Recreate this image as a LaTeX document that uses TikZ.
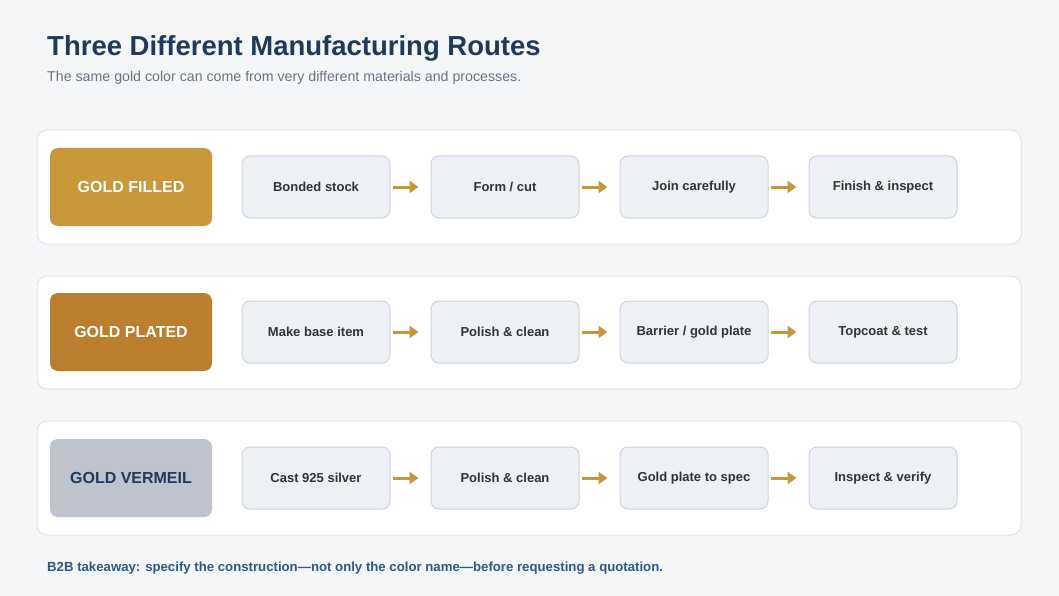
\documentclass[tikz,border=0pt]{standalone}
\usepackage{fontspec}
\setmainfont{Liberation Sans}
\usetikzlibrary{positioning,arrows.meta}
\definecolor{pagebg}{HTML}{F5F6F8}
\definecolor{navy}{HTML}{1F3A5A}
\definecolor{subgray}{HTML}{6B7280}
\definecolor{goldA}{HTML}{C8983A}
\definecolor{goldB}{HTML}{BB7E2E}
\definecolor{silverC}{HTML}{BEC3CE}
\definecolor{stepfill}{HTML}{EDF0F5}
\definecolor{stepline}{HTML}{CDD4DE}
\definecolor{panelline}{HTML}{DFE3E9}
\definecolor{arrowgold}{HTML}{C8963A}
\definecolor{notecol}{HTML}{2B5A8A}
\tikzset{
  panel/.style={draw=panelline,fill=white,rounded corners=10pt,line width=1pt},
  route/.style={rounded corners=8pt,minimum width=162pt,minimum height=78pt,font=\bfseries\fontsize{16}{18}\selectfont,inner sep=0pt},
  stepbox/.style={draw=stepline,fill=stepfill,rounded corners=8pt,line width=1pt,minimum width=148pt,minimum height=62pt,font=\bfseries\fontsize{13}{15}\selectfont,text=black!80,inner sep=0pt},
  flow/.style={draw=arrowgold,line width=3pt,-{Triangle[length=9pt,width=12pt]},shorten <=2pt,shorten >=12pt},
}
\begin{document}
\begin{tikzpicture}[x=1pt,y=-1pt]
\fill[pagebg] (0,0) rectangle (1059,596);
\useasboundingbox (0,0) rectangle (1059,596);
\node[anchor=base west,text=navy,font=\bfseries\fontsize{27.5}{30}\selectfont,inner sep=0pt] (title) at (47,56) {Three Different Manufacturing Routes};
\node[anchor=base west,text=subgray,font=\fontsize{14.2}{16}\selectfont,inner sep=0pt] (sub) at (47,82) {The same gold color can come from very different materials and processes.};

% Rows
\draw[panel] (37,130) rectangle (1021,244);
\draw[panel] (37,276) rectangle (1021,389);
\draw[panel] (37,421) rectangle (1021,535);

\node[route,fill=goldA,text=white] (rA) at (131,187) {GOLD FILLED};
\node[route,fill=goldB,text=white] (rB) at (131,332) {GOLD PLATED};
\node[route,fill=silverC,text=navy] (rC) at (131,478) {GOLD VERMEIL};

\node[stepbox] (a1) at (316,187) {Bonded stock};
\node[stepbox,right=40pt of a1] (a2) {Form / cut};
\node[stepbox,right=40pt of a2] (a3) {Join carefully};
\node[stepbox,right=40pt of a3] (a4) {Finish \& inspect};

\node[stepbox] (b1) at (316,332) {Make base item};
\node[stepbox,right=40pt of b1] (b2) {Polish \& clean};
\node[stepbox,right=40pt of b2] (b3) {Barrier / gold plate};
\node[stepbox,right=40pt of b3] (b4) {Topcoat \& test};

\node[stepbox] (c1) at (316,478) {Cast 925 silver};
\node[stepbox,right=40pt of c1] (c2) {Polish \& clean};
\node[stepbox,right=40pt of c2] (c3) {Gold plate to spec};
\node[stepbox,right=40pt of c3] (c4) {Inspect \& verify};

\foreach \r in {a,b,c}{
  \draw[flow] (\r1) -- (\r2);
  \draw[flow] (\r2) -- (\r3);
  \draw[flow] (\r3) -- (\r4);
}

\node[anchor=base west,text=notecol,font=\bfseries\fontsize{13.2}{15}\selectfont,inner sep=0pt] (note) at (47,571) {B2B takeaway: specify the construction---not only the color name---before requesting a quotation.};
\end{tikzpicture}
\end{document}
